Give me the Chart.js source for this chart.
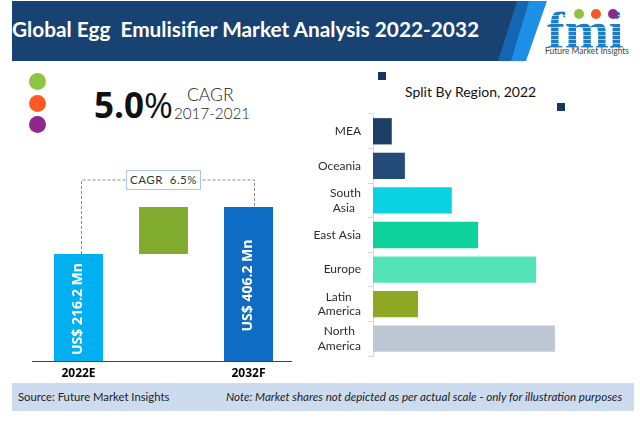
<!DOCTYPE html>
<html>
<head>
<meta charset="utf-8">
<title>Global Egg Emulisifier Market Analysis 2022-2032</title>
<script src="https://cdn.jsdelivr.net/npm/chart.js@4"></script>
<style>
  body { margin: 0; background: #fff; width: 640px; height: 439px; overflow: hidden; position: relative; font-family: "Open Sans", sans-serif; }
  .abs { position: absolute; white-space: nowrap; }
  canvas { position: absolute; }
  .band { position: absolute; left: 0; top: 0; width: 640px; height: 439px; }
  .dot { position: absolute; border-radius: 50%; }
  .sq { position: absolute; width: 8px; height: 8px; background: #17375e; }
  #logo { left: 547px; top: 8px; font: bold 53px/44px "Liberation Serif", serif; letter-spacing: 0;
    background: repeating-linear-gradient(#1c7cc4 0 3px, #9fcbea 3px 4px);
    -webkit-background-clip: text; background-clip: text; color: transparent; }
</style>
</head>
<body>
<!-- cabecera -->
<div class="band" style="background:#1e8fe6;clip-path:polygon(500px 1px,547px 1px,526px 61px,490px 61px)"></div>
<div class="band" style="background:#1565b0;clip-path:polygon(500px 1px,529px 1px,511px 61px,490px 61px)"></div>
<div class="band" style="background:#174271;clip-path:polygon(12px 1px,517px 1px,498px 61px,12px 61px)"></div>
<div class="abs" style="left:12px;top:16px;font-size:20.8px;font-weight:700;color:#fff;font-family:Lato,sans-serif">Global Egg&nbsp; Emulisifier Market Analysis 2022-2032</div>

<!-- logo -->
<div class="abs" id="logo">fmi</div>
<div class="dot" style="left:574px;top:9px;width:10px;height:10px;background:#8cc63f"></div>
<div class="dot" style="left:591px;top:9px;width:10px;height:10px;background:#f15a29"></div>
<div class="dot" style="left:608px;top:9px;width:10px;height:10px;background:#8e2a8e"></div>
<div class="abs" style="left:545px;top:46px;font-size:8.5px;color:#444;font-family:Lato,sans-serif">Future Market Insights</div>

<!-- CAGR historico -->
<div class="dot" style="left:29px;top:73px;width:17px;height:17px;background:#8cc63f"></div>
<div class="dot" style="left:29px;top:95px;width:17px;height:17px;background:#ff5a26"></div>
<div class="dot" style="left:29px;top:116px;width:17px;height:17px;background:#90278e"></div>
<div class="abs" style="left:94px;top:83px;font:bold 35px/44px 'Open Sans',sans-serif;color:#111">5.0<span style="font-weight:400">%</span></div>
<div class="abs" style="left:187px;top:84px;font:300 17.5px/22px Lato,sans-serif;color:#222">CAGR</div>
<div class="abs" style="left:174px;top:102px;font:300 15.2px/22px Lato,sans-serif;color:#222">2017-2021</div>

<!-- panel derecho -->
<div class="sq" style="left:378px;top:72px"></div>
<div class="sq" style="left:557px;top:103px"></div>
<div class="abs" style="left:405px;top:82px;font:14px/20px Lato,sans-serif;color:#111">Split By Region, 2022</div>

<canvas id="graficoValor" width="320" height="222" style="left:0;top:161px"></canvas>
<canvas id="graficoRegion" width="330" height="270" style="left:310px;top:100px"></canvas>

<div class="abs" style="left:126px;top:170px;width:73px;height:18px;border:1px solid #a9c7e8;background:#fff;text-align:center;font:11.5px/18px Lato,sans-serif;color:#333;letter-spacing:.5px">CAGR&nbsp; 6.5%</div>

<!-- pie -->
<div class="abs" style="left:12px;top:383px;width:622px;height:28px;background:#ccdcee"></div>
<div class="abs" style="left:18px;top:383px;font:11.3px/28px Lato,sans-serif;color:#222">Source: Future Market Insights</div>
<div class="abs" style="left:226px;top:383px;font:italic 11.6px/28px Lato,sans-serif;color:#222">Note: Market shares not depicted as per actual scale - only for illustration purposes</div>

<script>
// Panel izquierdo: las barras no estan a escala en el original, alturas
const periodos = ["2022E", "", "2032F"];
const inicioBarras = [0, 107, 0];
const finBarras = [107, 154, 154];
const etiquetasValor = ["US$ 216.2 Mn", "", "US$ 406.2 Mn"];
const coloresValor = ["#00b0f0", "#80ab2e", "#0e6cc4"];

// Panel derecho: participacion estimada por region
// (los espacios finales centran la linea corta sobre "America", como en el original)
const regiones = ["MEA", "Oceania", ["South", "Asia\u00a0\u00a0"], "East Asia", "Europe", ["Latin\u00a0\u00a0\u00a0", "America"], ["North\u00a0\u00a0", "America"]];
const participacion = [3.0, 5.1, 12.6, 16.8, 26.1, 7.2, 29.1];
const coloresRegion = ["#1b3f66", "#224c77", "#0ad2e0", "#0ed19b", "#54e3b7", "#8fa823", "#bfc7d4"];

// Lineas punteadas, textos girados y eje base
const extrasValor = {
    id: "extrasValor",
    afterDatasetsDraw(chart) {
        const { ctx, chartArea, scales } = chart;
        const meta = chart.getDatasetMeta(0);
        const yCaja = 180 - 161;

        ctx.save();
        ctx.strokeStyle = "#404040";
        ctx.lineWidth = 1;
        ctx.beginPath();
        ctx.moveTo(chartArea.left - 4, scales.y.getPixelForValue(0) + 0.5);
        ctx.lineTo(chartArea.right + 1, scales.y.getPixelForValue(0) + 0.5);
        ctx.stroke();

        ctx.strokeStyle = "#8c8c8c";
        ctx.setLineDash([3, 2]);
        ctx.beginPath();
        ctx.moveTo(81.5, scales.y.getPixelForValue(finBarras[0]));
        ctx.lineTo(81.5, yCaja);
        ctx.lineTo(254.5, yCaja);
        ctx.lineTo(254.5, scales.y.getPixelForValue(finBarras[2]));
        ctx.stroke();
        ctx.setLineDash([]);

        ctx.fillStyle = "#fff";
        ctx.font = "bold 14px 'Open Sans', sans-serif";
        ctx.textAlign = "center";
        ctx.textBaseline = "middle";
        etiquetasValor.forEach((texto, i) => {
            if (!texto) return;
            const barra = meta.data[i];
            ctx.save();
            ctx.translate(barra.x, (barra.y + barra.base) / 2 + 1.5);
            ctx.rotate(-Math.PI / 2);
            ctx.fillText(texto, 0, 0);
            ctx.restore();
        });
        ctx.restore();
    }
};

new Chart(document.getElementById("graficoValor"), {
    type: "bar",
    data: {
        labels: periodos,
        datasets: [{
            data: inicioBarras.map((inicio, i) => [inicio, finBarras[i]]),
            backgroundColor: coloresValor,
            barPercentage: 0.576,
            categoryPercentage: 1
        }]
    },
    options: {
        responsive: false,
        animation: false,
        events: [],
        layout: { padding: { left: 36, right: 29 } },
        plugins: { legend: { display: false }, tooltip: { enabled: false } },
        scales: {
            x: {
                grid: { display: false },
                border: { display: false },
                ticks: { color: "#000", font: { size: 12, weight: "bold", family: "'Open Sans', sans-serif" }, padding: -3, maxRotation: 0, autoSkip: false },
                afterFit(escala) { escala.height = 22; }
            },
            y: { display: false, min: 0, max: 200 }
        }
    },
    plugins: [extrasValor]
});

new Chart(document.getElementById("graficoRegion"), {
    type: "bar",
    data: {
        labels: regiones,
        datasets: [{
            data: participacion,
            backgroundColor: coloresRegion,
            barPercentage: 0.76,
            categoryPercentage: 1
        }]
    },
    options: {
        indexAxis: "y",
        responsive: false,
        animation: false,
        events: [],
        layout: { padding: { top: 14, bottom: 14 } },
        plugins: { legend: { display: false }, tooltip: { enabled: false } },
        scales: {
            x: { display: false, min: 0, max: 42.7 },
            y: {
                grid: { offset: true, drawOnChartArea: false, tickLength: 5, color: "#d9d9d9" },
                border: { color: "#d9d9d9" },
                ticks: { color: "#2b2b3a", font: { size: 12, family: "Lato, sans-serif" }, padding: 7, autoSkip: false },
                afterFit(escala) {
                    escala.width = 63;
                    escala.paddingTop = 0;
                    escala.paddingBottom = 0;
                }
            }
        }
    }
});
</script>
</body>
</html>
